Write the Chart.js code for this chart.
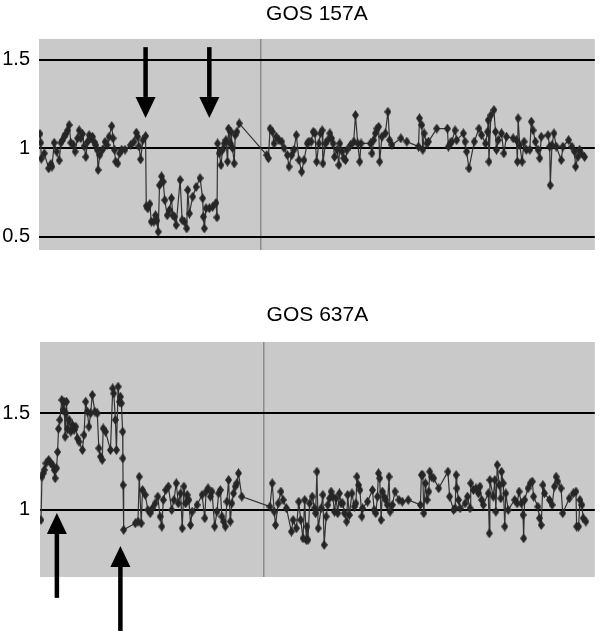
<!DOCTYPE html>
<html>
<head>
<meta charset="utf-8">
<script src="https://cdn.jsdelivr.net/npm/chart.js@4.4.1/dist/chart.umd.min.js"></script>
<style>
  html, body { margin: 0; padding: 0; background: #fff; }
  #wrap { position: relative; width: 600px; height: 631px; overflow: hidden; }
  canvas { position: absolute; left: 0; }
</style>
</head>
<body>
<div id="wrap">
  <canvas id="chart157" width="600" height="290" style="top:0px"></canvas>
  <canvas id="chart637" width="600" height="341" style="top:290px"></canvas>
</div>
<script>
// [position, ratio]
const gos157 = [
  [1,1.08],[1.7,1.03],[2.3,0.94],[5.3,0.97],[9.7,0.885],[12,0.91],[13,0.895],[15.3,1.03],[17.7,0.98],[20.3,0.93],
  [22,1.03],[23.7,1.045],[25.3,1.065],[27,1.08],[28.7,1.10],[30.3,1.13],[32,1.03],[34.3,1.02],[36.3,0.98],[38.7,1.055],
  [40.3,1.10],[42,1.055],[43.7,1.08],[45.3,1.01],[47,0.95],[48.7,1.035],[50.3,1.073],[52,1.055],[53.7,1.064],[55.3,1.035],
  [57,1.017],[58.3,0.99],[59.3,0.876],[61,0.96],[63.7,0.99],[66.3,1.035],[68.3,1.017],[70.3,1.064],[73,1.124],[74.3,1.055],
  [75.7,0.99],[77,0.923],[79,0.913],[81,0.97],[83,0.99],[86.3,0.99],[92,1.017],[95.3,1.035],[97.7,1.087],[99,1.064],
  [100.3,1.01],[102,0.936],[104.3,1.045],[107,1.068],[107.7,0.672],[109.3,0.659],[111.3,0.684],[112.7,0.584],[115.3,0.584],[117,0.62],
  [118.3,0.59],[119.7,0.527],[121,0.79],[123,0.84],[124.7,0.81],[126.3,0.706],[128.7,0.62],[131,0.65],[133,0.716],[134.3,0.62],
  [136,0.612],[137.7,0.565],[141.7,0.82],[143.7,0.593],[146,0.584],[148.3,0.546],[149.3,0.763],[151,0.63],[154.3,0.725],[157.7,0.78],
  [161.7,0.83],[164.3,0.716],[165,0.612],[166,0.546],[167.7,0.66],[171,0.66],[174.3,0.668],[177.7,0.69],[178.7,0.608],[179.3,1.026],
  [181,0.97],[182.7,0.904],[184.3,0.99],[186,1.026],[187.7,1.045],[189.3,0.923],[190.3,1.11],[192,1.026],[192.7,1.092],[194.3,1.0],
  [196,0.913],[197,1.073],[198.7,1.092],[201,1.139],[228.7,0.96],[230.3,0.942],[232,1.11],[234.3,1.092],[236,1.026],[238.3,1.064],
  [241,1.045],[243.7,1.036],[246,1.0],[249.3,0.96],[251,0.895],[253.7,0.96],[256,0.99],[258.3,1.073],[261,0.932],[263.7,0.866],
  [266,0.932],[269.3,1.026],[271,1.036],[273.3,1.036],[275.3,1.092],[277,1.083],[278.7,0.923],[281,1.026],[282.7,1.083],[284.3,1.10],
  [285,0.913],[287.7,1.026],[290,1.045],[292,1.083],[293.7,1.055],[295.3,1.026],[296.7,0.95],[299.3,0.99],[301,0.904],[302,1.026],
  [304.3,0.98],[306,0.942],[307.7,0.932],[309.3,0.99],[312.7,1.017],[316,1.036],[317.7,1.186],[320,1.026],[322,0.923],[323.3,1.026],
  [332.7,1.026],[334.3,0.97],[336,1.045],[337.7,1.083],[339.3,1.11],[341,1.12],[342,0.923],[344.3,1.064],[347.7,1.083],[350.3,1.205],
  [352,1.045],[354.3,1.017],[363.3,1.055],[369.3,1.036],[381,1.008],[382,1.168],[384.3,1.13],[385.3,0.99],[386.7,1.083],[389.3,1.026],
  [391,1.036],[399.3,1.11],[410,1.11],[411,1.008],[412.7,1.026],[414.3,1.036],[417.7,1.10],[419.3,1.045],[426,1.083],[427.7,1.036],
  [429.3,0.98],[431.7,0.885],[437,1.036],[441.7,1.11],[444.3,1.073],[448.3,1.026],[450.3,1.092],[451,1.158],[451.7,0.923],[453.7,1.186],
  [456.7,1.215],[458.3,1.092],[459.3,0.99],[461,1.045],[464.3,1.083],[466.7,0.97],[469.3,1.064],[476,1.055],[479.3,1.045],[480.3,0.923],
  [481,1.168],[482.7,1.017],[485,0.923],[487,1.036],[489.3,0.99],[492.7,0.99],[494.3,1.149],[496,1.10],[498.3,1.036],[501,0.99],
  [502.7,0.942],[504.3,1.064],[511,1.073],[512.7,1.008],[513.3,0.79],[515,1.017],[517,1.083],[519.3,1.008],[524.3,0.932],[526,1.008],
  [531.7,1.045],[535,1.008],[537.7,0.98],[538.7,0.895],[541,0.95],[542.7,0.99],[544.3,0.97],[547.7,0.95]
];

const gos637 = [
  [1,0.948],[2,1.172],[3.3,1.19],[4.3,1.207],[6,1.241],[8.7,1.259],[11,1.241],[12.7,1.233],[14.3,1.207],[15.3,1.164],
  [16.7,1.216],[17.7,1.30],[18.7,1.42],[20,1.466],[22,1.569],[23.3,1.517],[24.3,1.56],[25.3,1.379],[26,1.50],[26.7,1.56],
  [27.7,1.42],[29.3,1.466],[31,1.405],[32.7,1.44],[34.3,1.414],[36,1.431],[37.7,1.37],[39.3,1.353],[42.7,1.31],[44.3,1.388],
  [46,1.56],[47.7,1.509],[49.3,1.431],[51,1.50],[52.7,1.595],[55.3,1.509],[57.7,1.50],[59.3,1.319],[61,1.276],[62.7,1.259],
  [63.7,1.422],[66,1.405],[71,1.31],[73.3,1.629],[74.3,1.603],[76,1.466],[77,1.31],[78.7,1.638],[80,1.56],[81,1.586],
  [82,1.552],[83.3,1.405],[83.5,1.267],[83.7,1.129],[84.3,0.897],[96,0.931],[98.7,0.94],[100,1.172],[102,0.931],[103.3,1.103],
  [106,1.078],[108.7,1.0],[111,0.983],[113.3,1.009],[116,1.034],[118.7,1.069],[121,0.966],[122.7,0.914],[124.3,1.052],[126.7,1.103],
  [129.3,1.121],[132.7,1.0],[135,1.052],[137.3,1.138],[139.3,1.034],[141.7,1.086],[143.3,0.905],[145,1.121],[146.7,1.034],[148.3,1.078],
  [150,1.052],[151.7,0.922],[153.3,0.991],[158.3,1.026],[163.3,1.078],[166,0.957],[167.3,1.095],[169.3,1.112],[171.7,1.069],[173.3,1.095],
  [176,0.914],[178.3,0.991],[180,1.086],[181.7,1.103],[183.3,0.966],[185,0.94],[186.7,0.914],[188.3,1.043],[190,1.155],[191.7,0.94],
  [193.3,1.034],[195,1.086],[196.7,1.121],[198.3,1.138],[200,1.19],[203.3,1.069],[231.7,1.017],[234,1.138],[236,0.991],[237.3,0.922],
  [240,1.034],[242.7,1.095],[245,1.052],[248.3,1.009],[253.3,0.888],[255,0.948],[258.3,0.905],[260.7,1.043],[262.7,0.948],[265,0.853],
  [266.7,1.052],[268.3,0.845],[269,0.914],[270,0.845],[271.7,1.034],[274.3,1.069],[276.7,1.009],[277.7,0.983],[279,1.198],[280.3,0.905],
  [283.3,1.009],[285,1.078],[286.3,0.819],[288.3,0.966],[290,1.026],[291.7,1.06],[293.3,1.095],[295,1.069],[296.7,0.991],[298.3,1.06],
  [300,0.983],[301.7,1.086],[303.3,1.034],[305,1.034],[306.7,0.983],[309,0.94],[310,1.078],[311.7,0.974],[314.3,1.086],[316.7,1.017],
  [318.3,1.034],[319.3,1.172],[321,1.129],[322.3,1.103],[324.3,0.966],[325,1.009],[330,1.043],[335,1.103],[336.7,1.0],[338.3,0.983],
  [340,1.069],[341,1.19],[342.3,1.164],[343.7,0.948],[345,1.095],[346.7,1.069],[348.3,1.052],[350,1.026],[351.7,1.172],[352.7,0.991],
  [355,1.026],[357.7,1.095],[361.7,1.052],[365,1.043],[371,1.052],[383.3,1.026],[384.3,1.181],[385.7,1.181],[386.7,0.983],[388.3,1.138],
  [390,1.052],[391.7,1.095],[392.7,1.198],[394.3,1.172],[396.7,1.164],[401.7,1.112],[411,1.198],[412.7,1.069],[416.7,1.0],[418.3,1.009],
  [419.3,1.181],[420,1.112],[421.7,1.052],[423.3,1.009],[428.3,1.034],[430.7,1.069],[433.3,1.009],[434,1.138],[436.7,1.103],[439.3,1.112],
  [441.7,1.086],[443.3,1.121],[445,1.052],[446.7,1.026],[451.7,1.086],[452.7,0.879],[453.3,1.155],[456.7,1.069],[458.3,1.155],[459.3,0.991],
  [460.7,1.233],[462.7,1.129],[464.3,1.06],[465,1.198],[466.7,1.138],[468.3,0.914],[469.3,1.086],[471.7,1.0],[478.3,1.052],[480.7,1.034],
  [482.7,1.095],[485,1.034],[486.7,0.974],[487.3,0.853],[488.3,1.052],[491.7,1.112],[494,1.138],[496,1.147],[497.3,1.069],[501.7,1.017],
  [503.3,0.957],[505,0.922],[506.7,1.129],[508.3,1.086],[513.3,1.052],[516,1.026],[518.3,1.121],[520,1.172],[521.7,1.147],[525,1.112],
  [526.7,0.983],[533.3,1.06],[537.3,1.086],[540,1.095],[540.7,0.914],[542.7,0.914],[544,1.052],[546,1.026],[547.3,0.957],[550,0.94]
];

const ticks157 = [0.5, 1, 1.5];
const ticks637 = [1, 1.5];
// position of the thin vertical divider
const divider157 = 223;
const divider637 = 225;
// arrows: position, ratio at tail, ratio at tip
const arrows157 = [[107, 1.57, 1.17], [171, 1.57, 1.17]];
const arrows637 = [[17, 0.545, 0.984], [81, 0.374, 0.814]];

// tall diamond marker
const marker = document.createElement('canvas');
marker.width = 7; marker.height = 10;
(function () {
  const c = marker.getContext('2d');
  c.fillStyle = '#262626';
  c.beginPath();
  c.moveTo(3.5, 0); c.lineTo(7, 5); c.lineTo(3.5, 10); c.lineTo(0, 5);
  c.closePath(); c.fill();
})();

const plotBg = {
  id: 'plotBg',
  beforeDraw(chart) {
    const a = chart.chartArea, ctx = chart.ctx;
    ctx.save();
    ctx.fillStyle = '#c9c9c9';
    ctx.fillRect(a.left, a.top, a.right - a.left, a.bottom - a.top);
    ctx.restore();
  }
};

const arrowPlugin = {
  id: 'arrows',
  afterDraw(chart, args, opts) {
    const ctx = chart.ctx, xs = chart.scales.x, ys = chart.scales.y;
    ctx.save();
    ctx.fillStyle = '#000';
    (opts.items || []).forEach(a => {
      const x = xs.getPixelForValue(a[0]);
      const y0 = ys.getPixelForValue(a[1]);
      const y1 = ys.getPixelForValue(a[2]);
      const dir = y1 > y0 ? 1 : -1;
      const headLen = 21, half = 10, shaft = 4.5;
      const yb = y1 - dir * headLen;
      ctx.fillRect(x - shaft / 2, Math.min(y0, yb), shaft, Math.abs(yb - y0));
      ctx.beginPath();
      ctx.moveTo(x - half, yb); ctx.lineTo(x + half, yb); ctx.lineTo(x, y1);
      ctx.closePath(); ctx.fill();
    });
    ctx.restore();
  }
};

function makeChart(id, title, points, yTicks, yMin, yMax, xMax, divider, arrows, pad, yWidth, titlePad) {
  return new Chart(document.getElementById(id), {
    type: 'scatter',
    data: {
      datasets: [{
        data: points.map(p => ({ x: p[0], y: p[1] })),
        showLine: true,
        borderColor: '#333',
        borderWidth: 1.2,
        pointStyle: marker,
        pointRadius: 4,
        tension: 0
      }]
    },
    options: {
      responsive: false,
      animation: false,
      devicePixelRatio: 1,
      layout: { padding: pad },
      plugins: {
        legend: { display: false },
        tooltip: { enabled: false },
        title: {
          display: true,
          fullSize: false,
          text: title,
          color: '#000',
          font: { family: 'Liberation Sans, Arial, sans-serif', size: 21, weight: 'normal' },
          padding: titlePad
        },
        arrows: { items: arrows }
      },
      scales: {
        x: {
          type: 'linear',
          min: 0,
          max: xMax,
          afterBuildTicks: ax => { ax.ticks = [{ value: divider }]; },
          ticks: { display: false },
          grid: { color: '#8c8c8c', lineWidth: 1.5, drawTicks: false },
          border: { display: false }
        },
        y: {
          min: yMin,
          max: yMax,
          afterBuildTicks: ax => { ax.ticks = yTicks.map(v => ({ value: v })); },
          afterFit: ax => { ax.width = yWidth; },
          ticks: {
            color: '#000',
            padding: yWidth - 30,
            font: { family: 'Liberation Sans, Arial, sans-serif', size: 20 },
            callback: v => String(v)
          },
          grid: { color: '#000', lineWidth: 2, drawTicks: false },
          border: { display: false }
        }
      }
    },
    plugins: [plotBg, arrowPlugin]
  });
}

makeChart('chart157', 'GOS 157A', gos157, ticks157, 0.424, 1.616, 558, divider157, arrows157,
  { left: 0, right: 3, top: 0, bottom: 40 }, 39, { top: 1.5, bottom: 12.3 });
makeChart('chart637', 'GOS 637A', gos637, ticks637, 0.653, 1.869, 559, divider637, arrows637,
  { left: 0, right: 1, top: 0, bottom: 54 }, 40, { top: 12.4, bottom: 14.4 });
</script>
</body>
</html>
